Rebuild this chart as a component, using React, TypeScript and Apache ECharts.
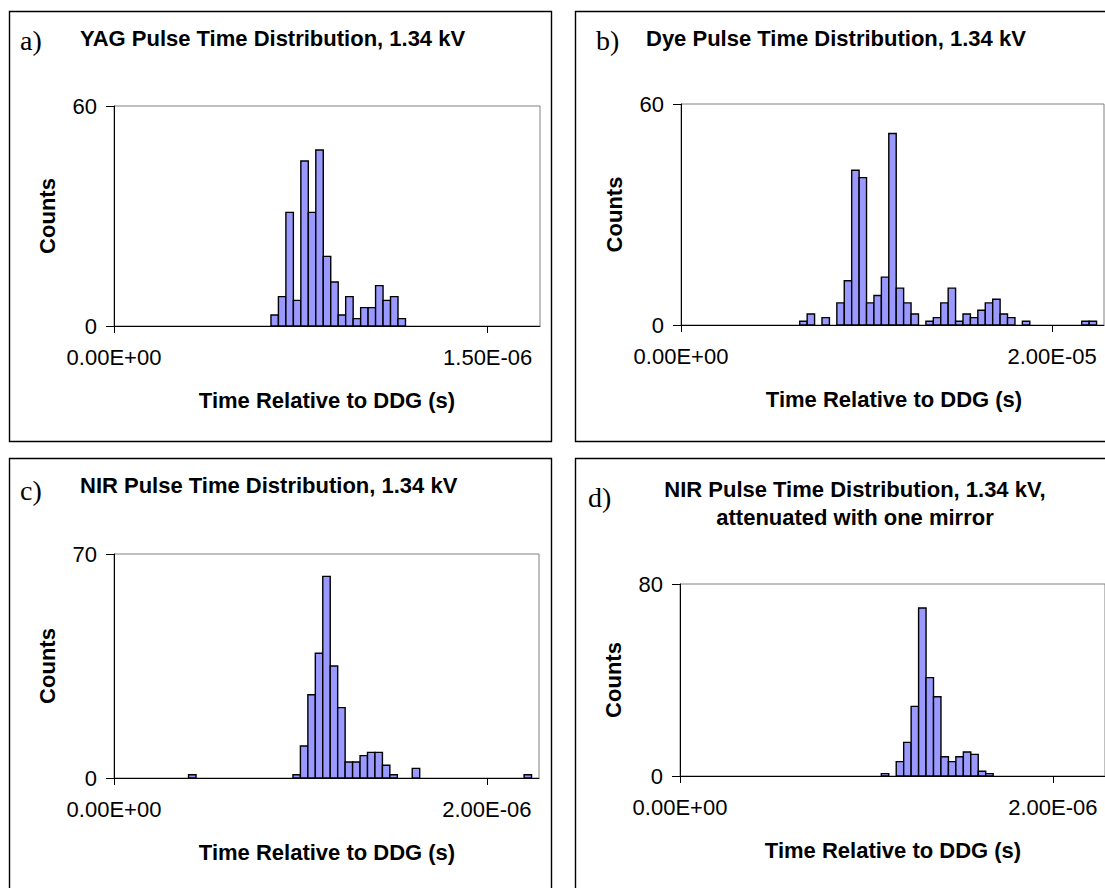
import React, { useEffect, useRef } from "react";
import * as echarts from "echarts";

// Each histogram has 57 equal time bins on its x axis.
const BIN_COUNT = 57;

// a) YAG pulse
const aBinWidth = 3e-8;
const aFirstBin = 21;
const aCounts = [3, 8, 31, 7, 45, 31, 48, 19, 12, 3, 8, 2, 5, 5, 11, 7, 8, 2];
const aYMax = 60;
const aXTick = 1.5e-6;

// b) Dye pulse
const bBinWidth = 4e-7;
const bFirstBin = 16;
const bCounts = [1, 3, 0, 2, 0, 6, 12, 42, 40, 6, 8, 13, 52, 10, 6, 3, 0, 1, 2, 6, 10, 1, 3, 2, 4, 6, 7, 3, 2, 0, 1, 0, 0, 0, 0, 0, 0, 0, 1, 1];
const bYMax = 60;
const bXTick = 2e-5;

// c) NIR pulse
const cBinWidth = 4e-8;
const cFirstBin = 10;
const cCounts = [1, 0, 0, 0, 0, 0, 0, 0, 0, 0, 0, 0, 0, 0, 1, 10, 26, 39, 63, 35, 22, 5, 5, 7, 8, 8, 4, 1, 0, 0, 3, 0, 0, 0, 0, 0, 0, 0, 0, 0, 0, 0, 0, 0, 0, 1];
const cYMax = 70;
const cXTick = 2e-6;

// d) NIR pulse, attenuated
const dBinWidth = 4e-8;
const dFirstBin = 27;
const dCounts = [1, 0, 6, 14, 29, 70, 41, 33, 8, 6, 8, 10, 9, 2, 1];
const dYMax = 80;
const dXTick = 2e-6;

const titles = [
  ["YAG Pulse Time Distribution, 1.34 kV"],
  ["Dye Pulse Time Distribution, 1.34 kV"],
  ["NIR Pulse Time Distribution, 1.34 kV"],
  ["NIR Pulse Time Distribution, 1.34 kV,", "attenuated with one mirror"],
];
const letters = ["a)", "b)", "c)", "d)"];
const xTitle = "Time Relative to DDG (s)";
const yTitle = "Counts";

const SANS = "'Liberation Sans', Arial, sans-serif";
const SERIF = "'Liberation Serif', 'Times New Roman', serif";

function sci(v: number): string {
  if (Math.abs(v) < 1e-30) return "0.00E+00";
  const [m, e] = v.toExponential(2).split("e");
  const n = parseInt(e, 10);
  const sign = n < 0 ? "-" : "+";
  return `${m}E${sign}${String(Math.abs(n)).padStart(2, "0")}`;
}

const panelData = [
  { counts: aCounts, first: aFirstBin, bw: aBinWidth, yMax: aYMax, xTick: aXTick },
  { counts: bCounts, first: bFirstBin, bw: bBinWidth, yMax: bYMax, xTick: bXTick },
  { counts: cCounts, first: cFirstBin, bw: cBinWidth, yMax: cYMax, xTick: cXTick },
  { counts: dCounts, first: dFirstBin, bw: dBinWidth, yMax: dYMax, xTick: dXTick },
];

// layout (px)
const grids = [
  { left: 114, top: 106, width: 426, height: 220 },
  { left: 681, top: 104, width: 423, height: 221 },
  { left: 114, top: 554, width: 425, height: 224 },
  { left: 680, top: 584, width: 425, height: 192 },
];
const boxes = [
  { x: 9, y: 11, w: 542, h: 430 },
  { x: 575, y: 11, w: 560, h: 430 },
  { x: 9, y: 458, w: 542, h: 460 },
  { x: 575, y: 458, w: 560, h: 460 },
];
const letterPos = [
  [20, 40],
  [596, 40],
  [20, 490],
  [588, 497],
];
const titlePos = [
  { x: 80, y: 38, align: "left" },
  { x: 646, y: 38, align: "left" },
  { x: 80, y: 485, align: "left" },
  { x: 855, y: 489, align: "center" },
];

const FS = 22;

export default function App() {
  const ref = useRef<HTMLDivElement>(null);
  useEffect(() => {
    if (!ref.current) return;
    const chart = echarts.init(ref.current, undefined, { renderer: "svg" });

    const xAxis: any[] = [];
    const yAxis: any[] = [];
    const series: any[] = [];
    const graphic: any[] = [];

    panelData.forEach((p, i) => {
      const xMax = BIN_COUNT * p.bw;
      xAxis.push({
        type: "value",
        gridIndex: i,
        min: 0,
        max: xMax,
        axisLine: { show: true, onZero: false, lineStyle: { color: "#000", width: 1 } },
        axisTick: { show: true, length: 7, inside: false, customValues: [0, p.xTick], lineStyle: { color: "#000" } },
        axisLabel: {
          show: true,
          customValues: [0, p.xTick],
          formatter: (v: number) => sci(v),
          margin: 20,
          color: "#000",
          fontSize: FS,
          fontFamily: SANS,
        },
        splitLine: { show: false },
      });
      yAxis.push({
        type: "value",
        gridIndex: i,
        min: 0,
        max: p.yMax,
        interval: p.yMax,
        axisLine: { show: true, lineStyle: { color: "#000", width: 1 } },
        axisTick: { show: true, length: 8, lineStyle: { color: "#000" } },
        axisLabel: { margin: 17, color: "#000", fontSize: FS, fontFamily: SANS },
        splitLine: { show: false },
      });
      const data = p.counts
        .map((c, k) => [(p.first + k) * p.bw, (p.first + k + 1) * p.bw, c])
        .filter((d) => d[2] > 0);
      series.push({
        type: "custom",
        xAxisIndex: i,
        yAxisIndex: i,
        data,
        encode: { x: [0, 1], y: 2 },
        clip: true,
        renderItem: (_params: any, api: any) => {
          const x0 = api.value(0);
          const x1 = api.value(1);
          const y = api.value(2);
          const p0 = api.coord([x0, y]);
          const p1 = api.coord([x1, 0]);
          return {
            type: "rect",
            shape: { x: p0[0], y: p0[1], width: p1[0] - p0[0], height: p1[1] - p0[1] },
            style: { fill: "#9999ff", stroke: "#000", lineWidth: 1.4 },
          };
        },
      });

      const b = boxes[i];
      graphic.push({
        type: "rect",
        shape: { x: b.x + 0.5, y: b.y + 0.5, width: b.w, height: b.h },
        style: { fill: "none", stroke: "#000", lineWidth: 1.4 },
        silent: true,
      });
      graphic.push({
        type: "text",
        x: letterPos[i][0],
        y: letterPos[i][1],
        style: {
          text: letters[i],
          fontSize: 28,
          fontFamily: SERIF,
          fill: "#000",
          textAlign: "left",
          textVerticalAlign: "middle",
        },
      });
      const tp = titlePos[i];
      titles[i].forEach((line, li) => {
        graphic.push({
          type: "text",
          x: tp.x,
          y: tp.y + li * 28,
          style: {
            text: line,
            fontSize: FS,
            fontWeight: "bold",
            fontFamily: SANS,
            fill: "#000",
            textAlign: tp.align,
            textVerticalAlign: "middle",
          },
        });
      });
      const g = grids[i];
      graphic.push({
        type: "text",
        x: g.left - 67,
        y: g.top + g.height / 2,
        rotation: Math.PI / 2,
        style: {
          text: yTitle,
          fontSize: FS,
          fontWeight: "bold",
          fontFamily: SANS,
          fill: "#000",
          textAlign: "center",
          textVerticalAlign: "middle",
        },
      });
      graphic.push({
        type: "text",
        x: g.left + 213,
        y: g.top + g.height + 74,
        style: {
          text: xTitle,
          fontSize: FS,
          fontWeight: "bold",
          fontFamily: SANS,
          fill: "#000",
          textAlign: "center",
          textVerticalAlign: "middle",
        },
      });
    });

    chart.setOption({
      animation: false,
      backgroundColor: "#fff",
      grid: grids.map((g) => ({
        ...g,
        show: true,
        borderColor: "#808080",
        borderWidth: 1,
        backgroundColor: "transparent",
        containLabel: false,
      })),
      xAxis,
      yAxis,
      series,
      graphic,
    });
    return () => chart.dispose();
  }, []);

  return (
    <div
      ref={ref}
      style={{ position: "fixed", left: 0, top: 0, width: 1105, height: 888, background: "#fff" }}
    />
  );
}
